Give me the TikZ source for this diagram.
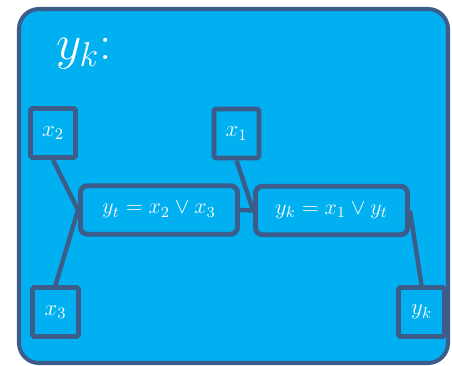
\documentclass[tikz,border=0pt]{standalone}
\usepackage{fix-cm}
\usepackage{amsmath,amssymb}
\usepackage{tikz}
\usetikzlibrary{positioning}
\definecolor{PanelBlue}{RGB}{0,176,240}
\definecolor{EdgeBlue}{RGB}{60,92,138}
\tikzset{
  panel/.style={draw=EdgeBlue, line width=2.3pt, fill=PanelBlue, rounded corners=0.4cm},
  varbox/.style={draw=EdgeBlue, line width=2.8pt, rounded corners=1pt, minimum width=0.9cm,
    minimum height=0.98cm, inner sep=0pt, text=white, font=\fontsize{13}{15}\selectfont},
  eqbox/.style={draw=EdgeBlue, line width=2.8pt, rounded corners=4pt, minimum height=0.97cm,
    inner sep=0pt, text=white, font=\fontsize{12.5}{15}\selectfont},
  link/.style={draw=EdgeBlue, line width=2.5pt},
}
\begin{document}
\begin{tikzpicture}[x=0.02cm, y=-0.02cm]
  \useasboundingbox (0,0) rectangle (452,365);
  \draw[panel] (19,9) rectangle (448,363);
  \node[anchor=base west, text=white, font=\fontsize{28}{32}\selectfont] (title) at (50,59) {$y_k$:};
  % inputs and output
  \node[varbox] (x2) at (53,133) {$x_2$};
  \node[varbox] (x1) at (236.5,133.5) {$x_1$};
  \node[varbox, minimum width=0.92cm] (x3) at (55.5,312) {$x_3$};
  \node[varbox, minimum width=0.92cm] (yk) at (421.5,312) {$y_k$};
  % gates
  \node[eqbox, minimum width=3.14cm] (yt) at (159,210) {$y_t = x_2 \vee x_3$};
  \node[eqbox, minimum width=3.04cm] (ykeq) at (331.5,210.5) {$y_k = x_1 \vee y_t$};
  \draw[link] (x2.south) -- (yt.west);
  \draw[link] (x3.north) -- (yt.west);
  \draw[link] (x1.south) -- (ykeq.west);
  \draw[link] (yt.east) -- (ykeq.west);
  \draw[link] (ykeq.east) -- (yk.north);
\end{tikzpicture}
\end{document}
